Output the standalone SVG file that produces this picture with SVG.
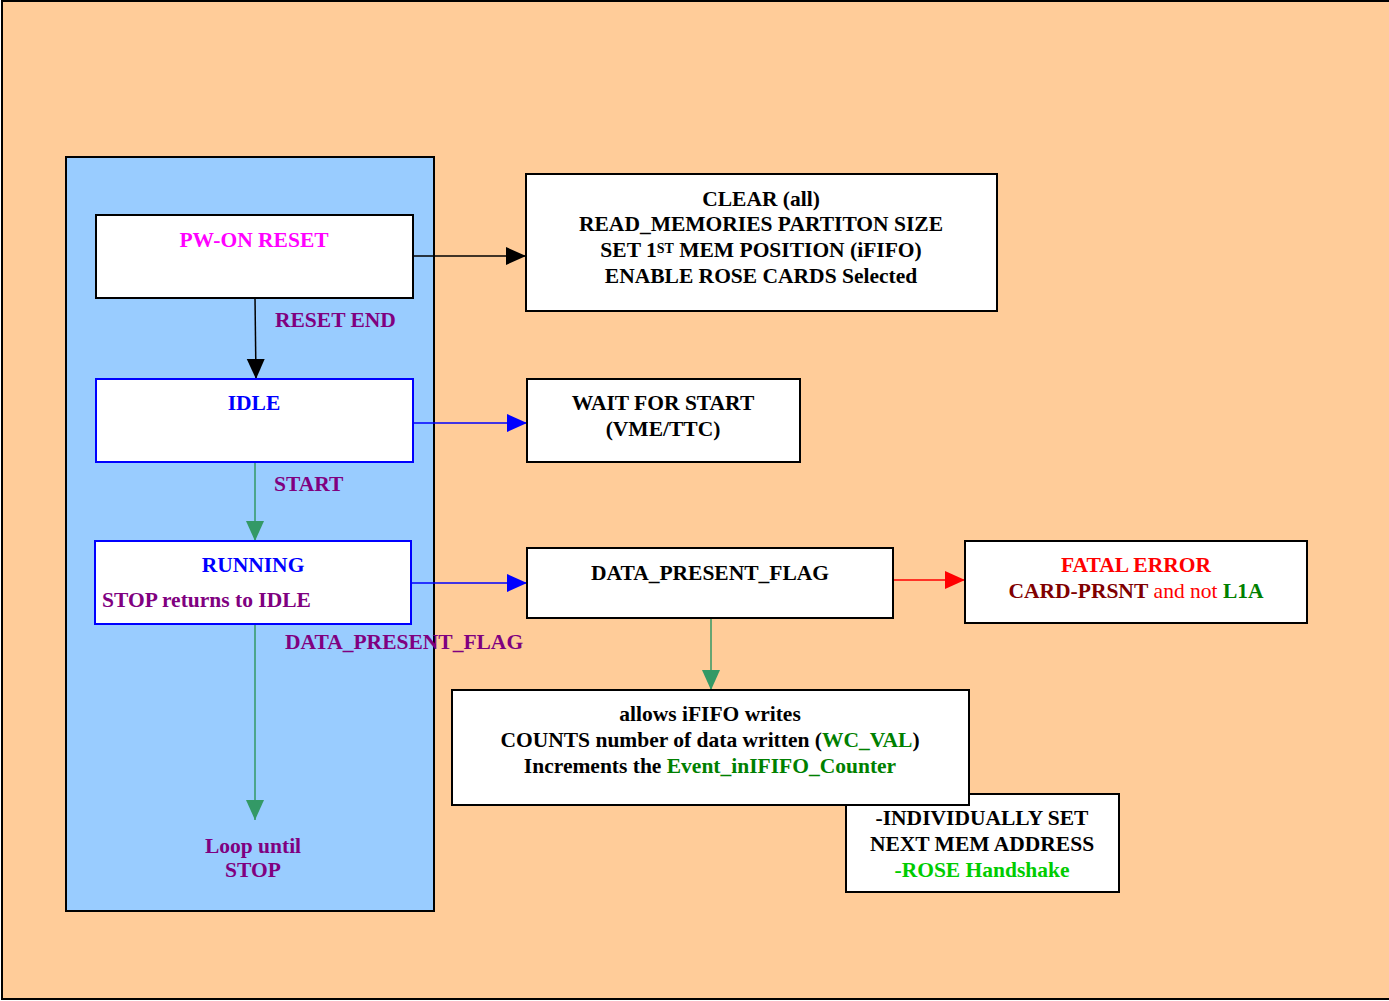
<svg xmlns="http://www.w3.org/2000/svg" width="1389" height="1001" viewBox="0 0 1389 1001">
<defs>
<marker id="ahK" markerUnits="userSpaceOnUse" markerWidth="22" markerHeight="20" refX="20" refY="9" orient="auto"><path d="M0,0 L20,9 L0,18 Z" fill="#000"/></marker>
<marker id="ahB" markerUnits="userSpaceOnUse" markerWidth="22" markerHeight="20" refX="20" refY="9" orient="auto"><path d="M0,0 L20,9 L0,18 Z" fill="#0000ff"/></marker>
<marker id="ahG" markerUnits="userSpaceOnUse" markerWidth="22" markerHeight="20" refX="20" refY="9" orient="auto"><path d="M0,0 L20,9 L0,18 Z" fill="#339966"/></marker>
<marker id="ahR" markerUnits="userSpaceOnUse" markerWidth="22" markerHeight="20" refX="20" refY="9" orient="auto"><path d="M0,0 L20,9 L0,18 Z" fill="#ff0000"/></marker>
</defs>
<style>
text{font-family:"Liberation Serif","Times New Roman",serif;font-weight:bold;font-size:21.5px;fill:#000}
.c{text-anchor:middle}
.box{fill:#fff;stroke:#000;stroke-width:2}
.bbox{fill:#fff;stroke:#0000ff;stroke-width:2}
.lab{fill:#800080}
.blue{fill:#0000ff}
.mag{fill:#ff00ff}
.red{fill:#ff0000}
.dred{fill:#800000}
.grn{fill:#008000}
.lgrn{fill:#00cc00}
.nb{font-weight:normal}
</style>
<rect x="2" y="1" width="1392" height="998" fill="#ffcc99" stroke="#000" stroke-width="2"/>
<rect id="panel" x="66" y="157" width="368" height="754" fill="#99ccff" stroke="#000" stroke-width="2"/>

<g id="connectors" fill="none" stroke-width="1.5">
<line x1="255" y1="298" x2="256" y2="379" stroke="#000" marker-end="url(#ahK)"/>
<line x1="255" y1="462" x2="255" y2="541" stroke="#339966" marker-end="url(#ahG)"/>
<line x1="255" y1="624" x2="255" y2="820" stroke="#339966" marker-end="url(#ahG)"/>
<line x1="413" y1="256" x2="526" y2="256" stroke="#000" marker-end="url(#ahK)"/>
<line x1="413" y1="423" x2="527" y2="423" stroke="#0000ff" marker-end="url(#ahB)"/>
<line x1="411" y1="583" x2="527" y2="583" stroke="#0000ff" marker-end="url(#ahB)"/>
<line x1="893" y1="580" x2="965" y2="580" stroke="#ff0000" marker-end="url(#ahR)"/>
<line x1="711" y1="618" x2="711" y2="690" stroke="#339966" marker-end="url(#ahG)"/>
<text class="lab" x="275" y="327">RESET END</text>
<text class="lab" x="274" y="491">START</text>
<text class="lab" x="285" y="649">DATA_PRESENT_FLAG</text>
<text class="lab c" x="253" y="853">Loop until</text>
<text class="lab c" x="253" y="877">STOP</text>
</g>

<g id="pwon">
<rect class="box" x="96" y="215" width="317" height="83"/>
<text class="mag c" x="254" y="247">PW-ON RESET</text>
</g>
<g id="idle">
<rect class="bbox" x="96" y="379" width="317" height="83"/>
<text class="blue c" x="254" y="410">IDLE</text>
</g>
<g id="running">
<rect class="bbox" x="95" y="541" width="316" height="83"/>
<text class="blue c" x="253" y="572">RUNNING</text>
<text class="lab" x="102" y="607">STOP returns to IDLE</text>
</g>
<g id="clear">
<rect class="box" x="526" y="174" width="471" height="137"/>
<text class="c" x="761" y="206">CLEAR (all)</text>
<text class="c" x="761" y="231">READ_MEMORIES PARTITON SIZE</text>
<text class="c" x="761" y="257">SET 1<tspan font-size="14" dy="-4">ST</tspan><tspan dy="4"> MEM POSITION (iFIFO)</tspan></text>
<text class="c" x="761" y="283">ENABLE ROSE CARDS Selected</text>
</g>
<g id="wait">
<rect class="box" x="527" y="379" width="273" height="83"/>
<text class="c" x="663" y="410">WAIT FOR START</text>
<text class="c" x="663" y="436">(VME/TTC)</text>
</g>
<g id="dpf">
<rect class="box" x="527" y="548" width="366" height="70"/>
<text class="c" x="710" y="580">DATA_PRESENT_FLAG</text>
</g>
<g id="fatal">
<rect class="box" x="965" y="541" width="342" height="82"/>
<text class="c red" x="1136" y="572">FATAL ERROR</text>
<text class="c" x="1136" y="598"><tspan class="dred">CARD-PRSNT</tspan><tspan class="red nb"> and not </tspan><tspan class="grn">L1A</tspan></text>
</g>
<g id="indiv">
<rect class="box" x="846" y="794" width="273" height="98"/>
<text class="c" x="982" y="825">-INDIVIDUALLY SET</text>
<text class="c" x="982" y="851">NEXT MEM ADDRESS</text>
<text class="c lgrn" x="982" y="877">-ROSE Handshake</text>
</g>
<g id="allows">
<rect class="box" x="452" y="690" width="517" height="115"/>
<text class="c" x="710" y="721">allows iFIFO writes</text>
<text class="c" x="710" y="747">COUNTS number of data written (<tspan class="grn">WC_VAL</tspan>)</text>
<text class="c" x="710" y="773">Increments the <tspan class="grn">Event_inIFIFO_Counter</tspan></text>
</g>
</svg>
